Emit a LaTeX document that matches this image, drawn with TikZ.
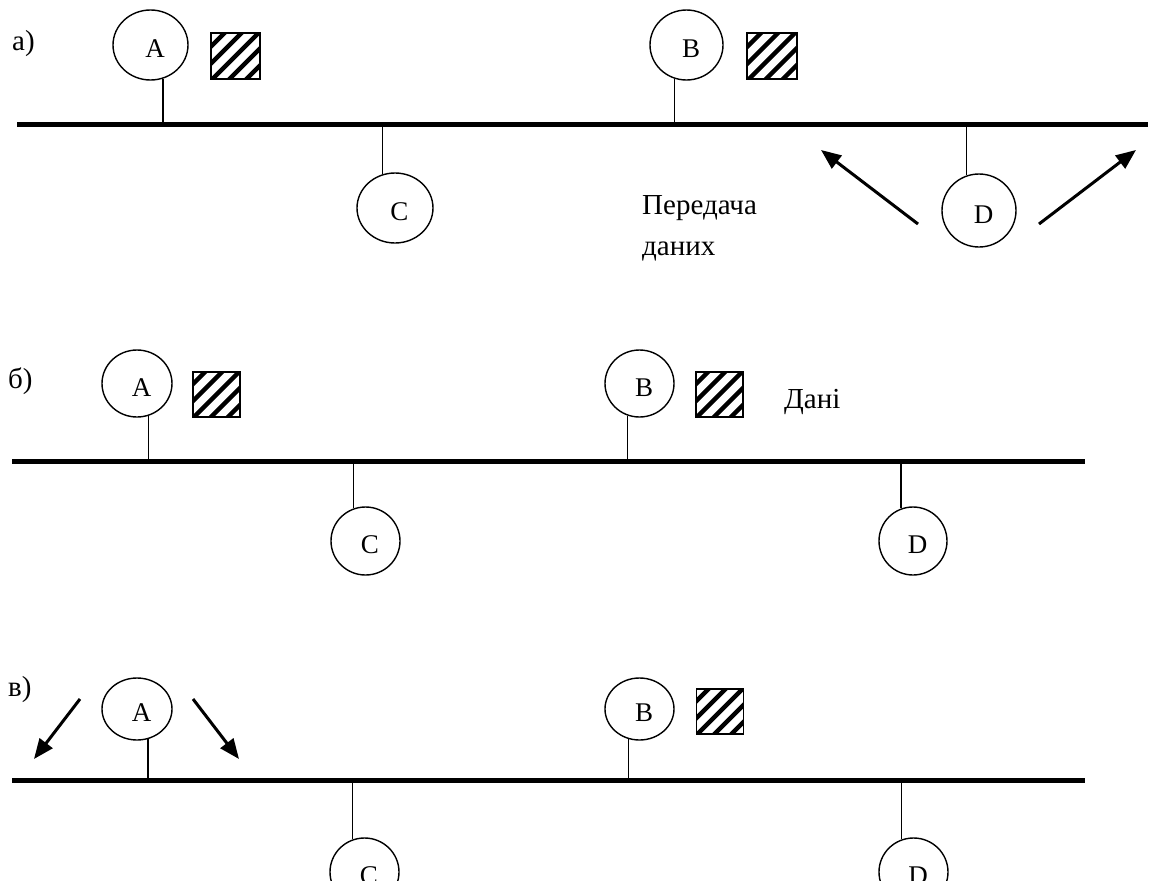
\documentclass[tikz,border=0pt]{standalone}
\usepackage{fontspec}
\setmainfont{Liberation Serif}
\usetikzlibrary{shapes.geometric,arrows.meta}
\newcommand\stxt[1]{\raisebox{-12.5pt}[0pt][0pt]{\makebox[0pt]{\hspace{9pt}#1}}}
\begin{document}
\begin{tikzpicture}[x=1pt,y=-1pt,
  bus/.style={line width=5pt},
  stem/.style={line width=1.4pt},
  station/.style={ellipse,draw,line width=1.4pt,inner sep=0pt,font=\fontsize{27}{30}\selectfont},
  hatchbox/.style={rectangle,draw,line width=1.6pt,inner sep=0pt,
    path picture={\foreach \k in {-4,...,4}
      \draw[line width=4.5pt] ([xshift=\k*17pt]path picture bounding box.center) ++(-40pt,-40pt) -- ++(80pt,80pt);}},
  lbl/.style={anchor=base west,inner sep=0pt,font=\fontsize{29}{33}\selectfont},
  sig/.style={line width=3pt,-{Triangle[length=20pt,width=16pt]}}]
\useasboundingbox (0,0) rectangle (1168,881);
\clip (0,0) rectangle (1168,881);

% ---------- a)
\node[lbl] (la) at (12,50) {а)};
\coordinate (aL) at (17,124);
\coordinate (aR) at (1148,124);
\draw[bus] (aL) -- (aR);
\node[station,minimum width=75pt,minimum height=70pt] (aA) at (150.5,45) {\stxt{A}};
\node[station,minimum width=73pt,minimum height=70pt] (aB) at (686.5,45) {\stxt{B}};
\node[station,minimum width=76pt,minimum height=70pt] (aC) at (395,208) {\stxt{C}};
\node[station,minimum width=74pt,minimum height=73pt] (aD) at (979,210.5) {\stxt{D}};
\node[hatchbox,minimum width=49pt,minimum height=46pt] (aSA) at (235.5,56) {};
\node[hatchbox,minimum width=50pt,minimum height=46pt] (aSB) at (772,56) {};
\draw[stem] (aA.-70) -- (aA.-70 |- aL);
\draw[stem] (aB.-110) -- (aB.-110 |- aL);
\draw[stem] (aC.110) -- (aC.110 |- aL);
\draw[stem] (aD.110) -- (aD.110 |- aL);
\coordinate (aD1s) at (918,224);
\coordinate (aD1e) at (821,150);
\coordinate (aD2s) at (1039,224);
\coordinate (aD2e) at (1136,150);
\draw[sig] (aD1s) -- (aD1e);
\draw[sig] (aD2s) -- (aD2e);
\node[lbl] (t1) at (642,214) {Передача};
\node[lbl] (t2) at (642,255) {даних};

% ---------- б)
\node[lbl] (lb) at (8,388) {б)};
\coordinate (bL) at (12,461);
\coordinate (bR) at (1085,461);
\draw[bus] (bL) -- (bR);
\node[station,minimum width=70pt,minimum height=67pt] (bA) at (137,383.5) {\stxt{A}};
\node[station,minimum width=69pt,minimum height=67pt] (bB) at (639.5,383.5) {\stxt{B}};
\node[station,minimum width=69pt,minimum height=68pt] (bC) at (365.5,541) {\stxt{C}};
\node[station,minimum width=68pt,minimum height=68pt] (bD) at (913,541) {\stxt{D}};
\node[hatchbox,minimum width=47pt,minimum height=45pt] (bSA) at (216.5,394.5) {};
\node[hatchbox,minimum width=47pt,minimum height=45pt] (bSB) at (719.5,394.5) {};
\draw[stem] (bA.-70) -- (bA.-70 |- bL);
\draw[stem] (bB.-110) -- (bB.-110 |- bL);
\draw[stem] (bC.110) -- (bC.110 |- bL);
\draw[stem] (bD.110) -- (bD.110 |- bL);
\node[lbl] (t3) at (784,408) {Дані};

% ---------- в)
\node[lbl] (lv) at (8,696) {в)};
\coordinate (vL) at (12,780);
\coordinate (vR) at (1085,780);
\draw[bus] (vL) -- (vR);
\node[station,minimum width=70pt,minimum height=62pt] (vA) at (137,709) {\stxt{A}};
\node[station,minimum width=69pt,minimum height=62pt] (vB) at (639.5,709) {\stxt{B}};
\node[station,minimum width=69pt,minimum height=68pt] (vC) at (364.5,872) {\stxt{C}};
\node[station,minimum width=69pt,minimum height=68pt] (vD) at (913.5,872) {\stxt{D}};
\node[hatchbox,minimum width=47pt,minimum height=45pt] (vSB) at (720,711.5) {};
\draw[stem] (vA.-70) -- (vA.-70 |- vL);
\draw[stem] (vB.-110) -- (vB.-110 |- vL);
\draw[stem] (vC.110) -- (vC.110 |- vL);
\draw[stem] (vD.110) -- (vD.110 |- vL);
\coordinate (vA1s) at (80,699);
\coordinate (vA1e) at (34,759);
\coordinate (vA2s) at (193,699);
\coordinate (vA2e) at (239,759);
\draw[sig] (vA1s) -- (vA1e);
\draw[sig] (vA2s) -- (vA2e);
\end{tikzpicture}
\end{document}
